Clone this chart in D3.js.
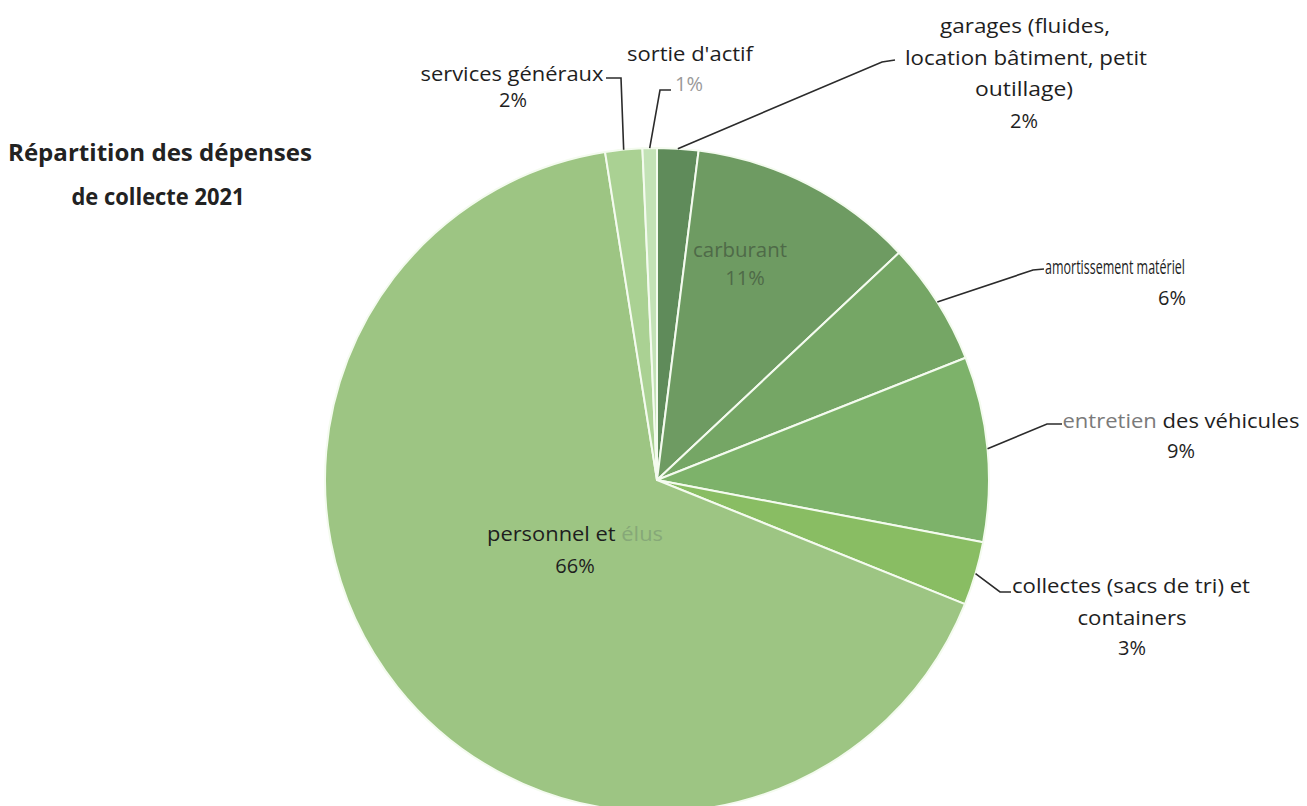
<!DOCTYPE html>
<html><head><meta charset="utf-8">
<script src="https://cdn.jsdelivr.net/npm/d3@7"></script>
<style>
html,body{margin:0;padding:0;background:#fff;}
svg{display:block;}
text{font-family:"Open Sans","Noto Sans",sans-serif;}
</style></head>
<body>
<svg id="chart" width="1307" height="806"></svg>
<script>
// ---- data ----
const categories = ["garages", "carburant", "amortissement", "entretien", "collectes", "personnel", "services", "sortie"];
const values = [2.0, 11.0, 6.0, 9.0, 3.1, 66.4, 1.8, 0.7];
const percentLabels = ["2%", "11%", "6%", "9%", "3%", "66%", "2%", "1%"];
const labelLines = [
  ["garages (fluides,", "location bâtiment, petit", "outillage)"],
  ["carburant"],
  ["amortissement matériel"],
  ["entretien des véhicules"],
  ["collectes (sacs de tri) et", "containers"],
  ["personnel et élus"],
  ["services généraux"],
  ["sortie d'actif"]
];
const colors = ["#5f8b5a", "#6e9b62", "#75a665", "#7db26a", "#89bd63", "#9dc583", "#aad193", "#c3e2b6"];
const title = ["Répartition des dépenses", "de collecte 2021"];

// ---- layout (positions / sizes only) ----
const cx = 657, cy = 480, R = 332;
// per label: line centers x, baselines y, fitted widths; percent position; leader bend/end
const layout = [
  {xs: [1025, 1026, 1024], ys: [33, 65, 96], ws: [170, 242, 98], px: 1024, py: 128, bend: [882, 62], end: [895, 60]},
  {xs: [740], ys: [257], ws: [94], px: 745, py: 285, bend: null},
  {xs: [1115], ys: [274], ws: [140], px: 1172, py: 305, bend: [1033, 270], end: [1044, 269]},
  {xs: [1181], ys: [428], ws: [237], px: 1181, py: 458, bend: [1047, 424], end: [1062, 424]},
  {xs: [1131, 1132], ys: [593, 625], ws: [238, 109], px: 1132, py: 655, bend: [1000, 592], end: [1011, 592]},
  {xs: [575], ys: [541], ws: [176], px: 575, py: 573, bend: null},
  {xs: [512], ys: [81], ws: [183], px: 513, py: 107, bend: [621, 78], end: [606, 78]},
  {xs: [690], ys: [61], ws: [126], px: 689, py: 91, bend: [660, 90], end: [671, 90]}
];
const titleLayout = [{x: 160, y: 161, w: 304}, {x: 158, y: 205, w: 173}];

const svg = d3.select("#chart");

const pie = d3.pie().sort(null).value(d => d)(values);
const arc = d3.arc().innerRadius(0).outerRadius(R);

const g = svg.append("g").attr("transform", `translate(${cx},${cy})`);
g.selectAll("path.slice").data(pie).join("path")
  .attr("class", "slice")
  .attr("d", arc)
  .attr("fill", (d, i) => colors[i])
  .attr("stroke", "#f4fbef")
  .attr("stroke-width", 2)
  .attr("stroke-linejoin", "round");

// leader lines
pie.forEach((d, i) => {
  const L = layout[i];
  if (!L.bend) return;
  const a = (d.startAngle + d.endAngle) / 2;
  const sx = cx + R * Math.sin(a), sy = cy - R * Math.cos(a);
  svg.append("polyline")
    .attr("points", [[sx, sy], L.bend, L.end].map(p => p.join(",")).join(" "))
    .attr("fill", "none")
    .attr("stroke", "#2b2b2b")
    .attr("stroke-width", 1.6);
});

// labels
const fs = 20;
labelLines.forEach((lines, i) => {
  const L = layout[i];
  const t = svg.append("g");
  const base = i === 1 ? "#4e6a48" : "#1e1e1e";
  lines.forEach((ln, j) => {
    const tx = t.append("text")
      .attr("x", L.xs[j]).attr("y", L.ys[j])
      .attr("text-anchor", "middle")
      .attr("font-size", fs)
      .attr("textLength", L.ws[j])
      .attr("lengthAdjust", "spacingAndGlyphs")
      .attr("fill", base);
    if (i === 3 && j === 0) {
      tx.append("tspan").attr("fill", "#7a7a7a").text("entretien");
      tx.append("tspan").text(" des véhicules");
    } else if (i === 5 && j === 0) {
      tx.append("tspan").text("personnel et ");
      tx.append("tspan").attr("fill", "#86a878").text("élus");
    } else {
      tx.text(ln);
    }
  });
  t.append("text")
    .attr("x", L.px).attr("y", L.py)
    .attr("text-anchor", "middle")
    .attr("font-size", fs)
    .attr("fill", i === 7 ? "#9a9a9a" : base)
    .text(percentLabels[i]);
});

// title
title.forEach((ln, j) => {
  const T = titleLayout[j];
  svg.append("text")
    .attr("x", T.x).attr("y", T.y)
    .attr("text-anchor", "middle")
    .attr("font-size", 24)
    .attr("font-weight", 700)
    .attr("textLength", T.w)
    .attr("lengthAdjust", "spacingAndGlyphs")
    .attr("fill", "#222")
    .text(ln);
});
</script>
</body></html>
